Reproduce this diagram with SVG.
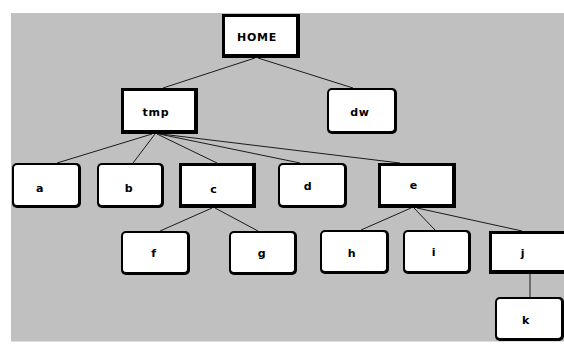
<svg xmlns="http://www.w3.org/2000/svg" width="564" height="349" viewBox="0 0 564 349">
  <style>
    .bg { fill: #c0c0c0; }
    .frame { fill: #000; }
    .face { fill: #fff; }
    .link { stroke: #1a1a1a; stroke-width: 1; fill: none; }
    .lbl { font-family: "DejaVu Sans", "Liberation Sans", sans-serif; font-weight: bold; font-size: 11px; letter-spacing: 0.8px; fill: #000; text-anchor: middle; }
  </style>
  <rect x="0" y="0" width="564" height="349" fill="#fff"/>
  <rect class="bg" x="11" y="13" width="553" height="328.5"/>

  <g id="connectors">
    <line class="link" x1="255" y1="58" x2="163" y2="88"/>
    <line class="link" x1="258" y1="58" x2="353" y2="88"/>
    <line class="link" x1="152" y1="134" x2="57" y2="163"/>
    <line class="link" x1="155" y1="134" x2="133" y2="163"/>
    <line class="link" x1="157" y1="134" x2="217" y2="163"/>
    <line class="link" x1="159" y1="134" x2="300" y2="163"/>
    <line class="link" x1="161" y1="134" x2="400" y2="163"/>
    <line class="link" x1="212" y1="208" x2="160" y2="231"/>
    <line class="link" x1="215" y1="208" x2="258" y2="231"/>
    <line class="link" x1="411" y1="208" x2="361" y2="230"/>
    <line class="link" x1="414" y1="208" x2="435" y2="230"/>
    <line class="link" x1="417" y1="208" x2="522" y2="231"/>
    <line class="link" x1="530" y1="274" x2="530" y2="297"/>
  </g>

  <g id="node-home">
    <rect class="frame" x="222" y="14" width="78" height="44"/>
    <rect class="face" x="225" y="17" width="71" height="37"/>
    <text class="lbl" x="257" y="41">HOME</text>
  </g>
  <g id="node-tmp">
    <rect class="frame" x="121" y="88" width="77" height="46"/>
    <rect class="face" x="124" y="91" width="70" height="39"/>
    <text class="lbl" x="156" y="116">tmp</text>
  </g>
  <g id="node-dw">
    <rect class="frame" x="327" y="88" width="70" height="46" rx="5"/>
    <rect class="face" x="329" y="90" width="65" height="41" rx="3"/>
    <text class="lbl" x="360" y="116">dw</text>
  </g>
  <g id="node-a">
    <rect class="frame" x="12" y="163" width="69" height="45" rx="5"/>
    <rect class="face" x="14" y="165" width="64" height="40" rx="3"/>
    <text class="lbl" x="40" y="192">a</text>
  </g>
  <g id="node-b">
    <rect class="frame" x="97" y="163" width="67" height="45" rx="5"/>
    <rect class="face" x="99" y="165" width="62" height="40" rx="3"/>
    <text class="lbl" x="129" y="192">b</text>
  </g>
  <g id="node-c">
    <rect class="frame" x="179" y="163" width="77" height="45"/>
    <rect class="face" x="182" y="166" width="70" height="38"/>
    <text class="lbl" x="214" y="193">c</text>
  </g>
  <g id="node-d">
    <rect class="frame" x="278" y="163" width="69" height="45" rx="5"/>
    <rect class="face" x="280" y="165" width="64" height="40" rx="3"/>
    <text class="lbl" x="308" y="190">d</text>
  </g>
  <g id="node-e">
    <rect class="frame" x="378" y="163" width="78" height="45"/>
    <rect class="face" x="381" y="166" width="71" height="38"/>
    <text class="lbl" x="414" y="189">e</text>
  </g>
  <g id="node-f">
    <rect class="frame" x="121" y="231" width="69" height="44" rx="5"/>
    <rect class="face" x="123" y="233" width="64" height="39" rx="3"/>
    <text class="lbl" x="154" y="257">f</text>
  </g>
  <g id="node-g">
    <rect class="frame" x="229" y="231" width="68" height="44" rx="5"/>
    <rect class="face" x="231" y="233" width="63" height="39" rx="3"/>
    <text class="lbl" x="262" y="257">g</text>
  </g>
  <g id="node-h">
    <rect class="frame" x="320" y="230" width="69" height="44" rx="5"/>
    <rect class="face" x="322" y="232" width="64" height="39" rx="3"/>
    <text class="lbl" x="352" y="257">h</text>
  </g>
  <g id="node-i">
    <rect class="frame" x="403" y="230" width="68" height="44" rx="5"/>
    <rect class="face" x="405" y="232" width="63" height="39" rx="3"/>
    <text class="lbl" x="434" y="256">i</text>
  </g>
  <g id="node-j">
    <rect class="frame" x="489" y="231" width="80" height="43"/>
    <rect class="face" x="492" y="234" width="73" height="36"/>
    <text class="lbl" x="523" y="257">j</text>
  </g>
  <g id="node-k">
    <rect class="frame" x="495" y="297" width="69" height="44" rx="5"/>
    <rect class="face" x="497" y="299" width="64" height="39" rx="3"/>
    <text class="lbl" x="526" y="324">k</text>
  </g>
</svg>
